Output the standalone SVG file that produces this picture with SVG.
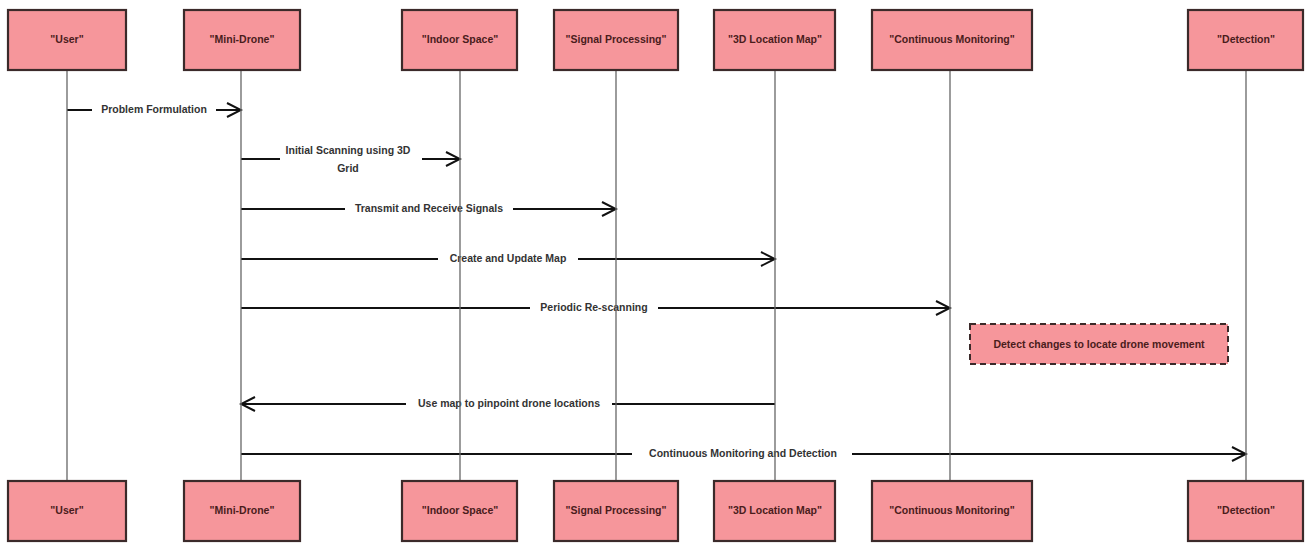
<svg xmlns="http://www.w3.org/2000/svg" width="1308" height="544" viewBox="0 0 1308 544">
<style>
.box{fill:#f6969b;stroke:#3b2a2a;stroke-width:2.2}
.lbl{font-family:"Liberation Sans",Arial,sans-serif;font-size:10.5px;font-weight:bold;fill:#4a1c1c;text-anchor:middle;dominant-baseline:middle}
.life{stroke:#666;stroke-width:1.3;fill:none}
.msg{stroke:#111;stroke-width:2;fill:none;marker-end:url(#arr)}
.mt{font-family:"Liberation Sans",Arial,sans-serif;font-size:10.5px;font-weight:bold;fill:#333;text-anchor:middle;dominant-baseline:middle}
.bg{fill:#fff}
.note{fill:#f6969b;stroke:#3b2a2a;stroke-width:2;stroke-dasharray:6 4}
</style>
<defs>
<marker id="arr" markerUnits="userSpaceOnUse" markerWidth="18" markerHeight="18" refX="16" refY="8" orient="auto">
<path d="M2,1 L16,8 L2,15" fill="none" stroke="#111" stroke-width="2"/>
</marker>
</defs>
<rect width="1308" height="544" fill="#fff"/>
<g id="connectors">
<line class="msg" x1="67" y1="110" x2="241" y2="110"/>
<rect class="bg" x="92" y="102" width="124" height="16"/>
<text class="mt" x="154" y="110">Problem Formulation</text>
<line class="msg" x1="241" y1="159" x2="460" y2="159"/>
<rect class="bg" x="280" y="143" width="142" height="34"/>
<text class="mt" x="348" y="151">Initial Scanning using 3D</text>
<text class="mt" x="348" y="169">Grid</text>
<line class="msg" x1="241" y1="209" x2="616" y2="209"/>
<rect class="bg" x="345" y="201" width="168" height="16"/>
<text class="mt" x="429" y="209">Transmit and Receive Signals</text>
<line class="msg" x1="241" y1="259" x2="775" y2="259"/>
<rect class="bg" x="438" y="251" width="140" height="16"/>
<text class="mt" x="508" y="259">Create and Update Map</text>
<line class="msg" x1="241" y1="308" x2="950" y2="308"/>
<rect class="bg" x="530" y="300" width="128" height="16"/>
<text class="mt" x="594" y="308">Periodic Re-scanning</text>
<line class="msg" x1="775" y1="404" x2="241" y2="404"/>
<rect class="bg" x="406" y="396" width="206" height="16"/>
<text class="mt" x="509" y="404">Use map to pinpoint drone locations</text>
<line class="msg" x1="241" y1="454" x2="1246" y2="454"/>
<rect class="bg" x="632" y="446" width="220" height="16"/>
<text class="mt" x="743" y="454">Continuous Monitoring and Detection</text>
</g>
<g id="lifelines">
<line class="life" x1="67" y1="70" x2="67" y2="480"/>
<line class="life" x1="241" y1="70" x2="241" y2="480"/>
<line class="life" x1="460" y1="70" x2="460" y2="480"/>
<line class="life" x1="616" y1="70" x2="616" y2="480"/>
<line class="life" x1="775" y1="70" x2="775" y2="480"/>
<line class="life" x1="950" y1="70" x2="950" y2="480"/>
<line class="life" x1="1246" y1="70" x2="1246" y2="480"/>
</g>
<g id="note">
<rect class="note" x="970" y="324" width="258" height="40"/>
<text class="lbl" x="1099" y="345">Detect changes to locate drone movement</text>
</g>
<g id="user">
<rect class="box" x="8" y="10" width="118" height="60"/>
<text class="lbl" x="67" y="40">"User"</text>
<rect class="box" x="8" y="481" width="118" height="60"/>
<text class="lbl" x="67" y="511">"User"</text>
</g>
<g id="minidrone">
<rect class="box" x="184" y="10" width="116" height="60"/>
<text class="lbl" x="242" y="40">"Mini-Drone"</text>
<rect class="box" x="184" y="481" width="116" height="60"/>
<text class="lbl" x="242" y="511">"Mini-Drone"</text>
</g>
<g id="indoorspace">
<rect class="box" x="402" y="10" width="115" height="60"/>
<text class="lbl" x="460" y="40">"Indoor Space"</text>
<rect class="box" x="402" y="481" width="115" height="60"/>
<text class="lbl" x="460" y="511">"Indoor Space"</text>
</g>
<g id="signalprocessing">
<rect class="box" x="554" y="10" width="124" height="60"/>
<text class="lbl" x="616" y="40">"Signal Processing"</text>
<rect class="box" x="554" y="481" width="124" height="60"/>
<text class="lbl" x="616" y="511">"Signal Processing"</text>
</g>
<g id="locationmap">
<rect class="box" x="714" y="10" width="121" height="60"/>
<text class="lbl" x="775" y="40">"3D Location Map"</text>
<rect class="box" x="714" y="481" width="121" height="60"/>
<text class="lbl" x="775" y="511">"3D Location Map"</text>
</g>
<g id="continuousmonitoring">
<rect class="box" x="872" y="10" width="160" height="60"/>
<text class="lbl" x="952" y="40">"Continuous Monitoring"</text>
<rect class="box" x="872" y="481" width="160" height="60"/>
<text class="lbl" x="952" y="511">"Continuous Monitoring"</text>
</g>
<g id="detection">
<rect class="box" x="1188" y="10" width="115" height="60"/>
<text class="lbl" x="1246" y="40">"Detection"</text>
<rect class="box" x="1188" y="481" width="115" height="60"/>
<text class="lbl" x="1246" y="511">"Detection"</text>
</g>
</svg>
